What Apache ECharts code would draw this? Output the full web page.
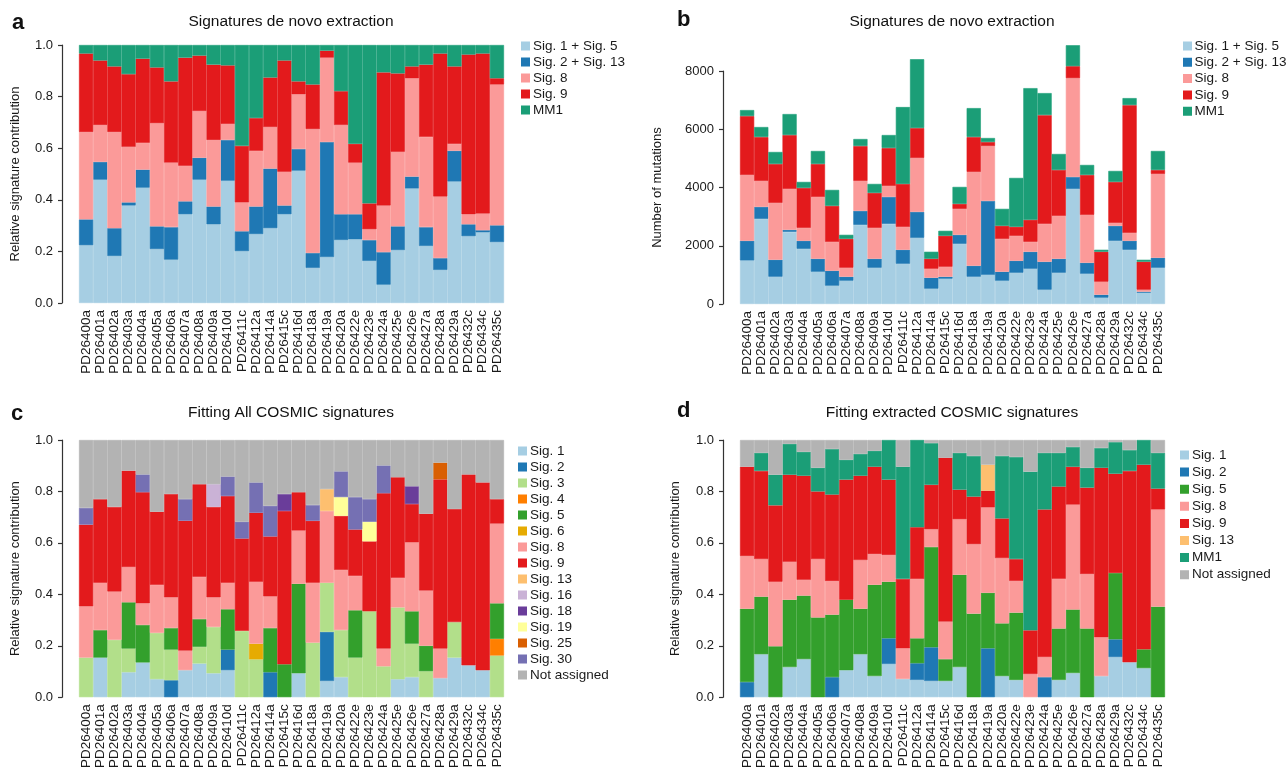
<!DOCTYPE html>
<html>
<head>
<meta charset="utf-8">
<script src="https://cdn.jsdelivr.net/npm/echarts@6/dist/echarts.min.js"></script>
<style>
html,body{margin:0;padding:0;background:#fff}
#main{width:1287px;height:771px}
</style>
</head>
<body>
<div id="main"></div>
<script>
var samples = ["PD26400a","PD26401a","PD26402a","PD26403a","PD26404a","PD26405a","PD26406a","PD26407a","PD26408a","PD26409a",
  "PD26410d","PD26411c","PD26412a","PD26414a","PD26415c","PD26416d","PD26418a","PD26419a","PD26420a","PD26422e",
  "PD26423e","PD26424a","PD26425e","PD26426e","PD26427a","PD26428a","PD26429a","PD26432c","PD26434c","PD26435c"];

// a: de novo, relative
var a_sig1_5  = [.224,.478,.182,.378,.447,.209,.168,.344,.478,.305,.474,.201,.267,.290,.344,.513,.136,.178,.244,.247,.163,.071,.205,.444,.221,.128,.471,.259,.274,.236];
var a_sig2_13 = [.100,.069,.108,.012,.070,.088,.126,.050,.085,.069,.158,.077,.107,.231,.034,.084,.058,.446,.100,.097,.081,.126,.092,.046,.073,.046,.119,.046,.008,.065];
var a_sig8    = [.339,.143,.373,.215,.104,.400,.250,.138,.181,.258,.062,.112,.216,.161,.131,.212,.480,.327,.346,.200,.042,.181,.289,.381,.350,.239,.027,.039,.065,.546];
var a_sig9    = [.304,.250,.254,.282,.326,.216,.315,.419,.215,.292,.227,.219,.127,.192,.431,.050,.173,.027,.131,.073,.100,.516,.304,.046,.280,.554,.300,.619,.620,.024];
var a_mm1     = [.033,.060,.083,.113,.053,.087,.141,.049,.041,.076,.079,.391,.283,.126,.060,.141,.153,.022,.179,.383,.614,.106,.110,.083,.076,.033,.083,.037,.033,.129];

// b: de novo, counts
var b_sig1_5  = [1497,2926,937,2480,1897,1109,629,800,2720,1246,2755,1383,2275,526,869,2069,937,1006,800,1074,1212,491,1074,3955,1040,217,2172,1863,389,1246];
var b_sig2_13 = [675,412,583,69,275,445,514,137,480,308,925,480,891,377,68,308,377,2537,309,412,583,961,480,411,377,103,514,309,34,343];
var b_sig8    = [2263,891,1955,1406,445,2126,994,309,1029,1063,378,789,1852,309,343,892,3224,1886,1131,857,342,1303,1475,3395,1646,446,103,274,68,2880];
var b_sig9    = [2023,1509,1337,1851,1372,1132,1235,994,1200,1201,1303,1474,1029,342,1063,171,1200,137,446,309,755,3737,1577,411,1372,1029,1406,4389,961,137];
var b_mm1     = [206,343,412,721,206,446,548,137,240,308,445,2641,2365,241,172,583,994,138,583,1680,4526,755,549,720,343,68,377,240,68,652];

// c: fitting all COSMIC signatures
var c_sig1  = [0,.154,0,.097,.135,.070,0,.105,.131,.093,.105,0,0,0,0,.093,0,.063,.078,0,0,0,.070,.078,0,.074,.154,.124,.105,0];
var c_sig2  = [0,0,0,0,0,0,.066,0,0,0,.080,0,0,.097,0,0,0,.191,0,0,0,0,0,0,0,0,0,0,0,0];
var c_sig3  = [.154,0,.223,.092,0,.180,.119,0,.065,.180,0,.258,.147,0,0,0,.212,.191,.183,.154,.334,.120,.279,.130,.101,0,.138,0,0,.162];
var c_sig4  = [0,0,0,0,0,0,0,0,0,0,0,0,0,0,0,0,0,0,0,0,0,0,0,0,0,0,0,0,0,.065];
var c_sig5  = [0,.107,0,.180,.146,0,.084,0,.108,0,.157,0,0,.172,.128,.348,0,0,0,.184,0,0,0,.126,.099,0,0,0,0,.138];
var c_sig6  = [0,0,0,0,0,0,0,0,0,0,0,0,.061,0,0,0,0,0,0,0,0,0,0,0,0,0,0,0,0,0];
var c_sig8  = [.199,.184,.188,.137,.084,.187,.119,.076,.164,.115,.103,0,.241,.123,0,.207,.233,.279,.234,.134,0,.069,.115,.268,.215,.115,0,0,0,.310];
var c_sig9  = [.318,.325,.329,.375,.432,.284,.402,.505,.360,.352,.337,.359,.268,.233,.596,.149,.241,0,.210,.180,.272,.604,.391,.149,.298,.658,.440,.742,.730,.095];
var c_sig13 = [0,0,0,0,0,0,0,0,0,0,0,0,0,0,0,0,0,.085,0,0,0,0,0,0,0,0,0,0,0,0];
var c_sig16 = [0,0,0,0,0,0,0,0,0,.088,0,0,0,0,0,0,0,0,0,0,0,0,0,0,0,0,0,0,0,0];
var c_sig18 = [0,0,0,0,0,0,0,0,0,0,0,0,0,0,.066,0,0,0,0,0,0,0,0,.069,0,0,0,0,0,0];
var c_sig19 = [0,0,0,0,0,0,0,0,0,0,0,0,0,0,0,0,0,0,.073,0,.076,0,0,0,0,0,0,0,0,0];
var c_sig25 = [0,0,0,0,0,0,0,0,0,0,0,0,0,0,0,0,0,0,0,0,0,0,0,0,0,.065,0,0,0,0];
var c_sig30 = [.065,0,0,0,.069,0,0,.084,0,0,.076,.065,.118,.119,0,0,.061,0,.100,.126,.088,.108,0,0,0,0,0,0,0,0];
var c_na    = [.264,.230,.260,.119,.134,.279,.210,.230,.172,.172,.142,.318,.165,.256,.210,.203,.253,.191,.122,.222,.230,.099,.145,.180,.287,.088,.268,.134,.165,.230];

// d: fitting extracted COSMIC signatures
var d_sig1  = [0,.167,0,.117,.148,0,0,.105,.167,.082,.129,.071,.067,.063,.063,.117,0,0,.082,.067,0,0,.067,.094,0,.082,.156,.136,.113,0];
var d_sig2  = [.059,0,0,0,0,0,.078,0,0,0,.100,0,.065,.131,0,0,0,.190,0,0,0,.078,0,0,0,0,.069,0,0,0];
var d_sig5  = [.285,.224,.198,.262,.247,.310,.243,.274,.177,.355,.220,0,.097,.390,.085,.359,.325,.216,.205,.262,0,0,.200,.247,.267,0,.258,0,.073,.352];
var d_sig8  = [.205,.146,.251,.147,.061,.227,.131,0,.189,.120,.104,.119,.231,.069,.146,.216,.270,.332,.254,.123,.090,.078,.193,.408,.212,.151,0,0,0,.378];
var d_sig9  = [.347,.343,.297,.339,.405,.263,.336,.467,.328,.339,.293,.270,.201,.173,.637,.115,.185,.065,.154,.085,.170,.574,.359,.147,.336,.659,.386,.744,.718,.081];
var d_sig13 = [0,0,0,0,0,0,0,0,0,0,0,0,0,0,0,0,0,.101,0,0,0,0,0,0,0,0,0,0,0,0];
var d_mm1   = [0,.070,.119,.120,.093,.092,.177,.077,.085,.062,.154,.436,.339,.162,0,.143,.158,0,.243,.397,.617,.220,.131,.077,.077,.077,.123,.081,.096,.139];
var d_na    = [.104,.050,.135,.015,.046,.108,.035,.077,.054,.042,0,.104,0,.012,.069,.050,.062,.096,.062,.066,.123,.050,.050,.027,.108,.031,.008,.039,0,.050];

var col = {
  s1:"#a6cee3", s2:"#1f78b4", s3:"#b2df8a", s4:"#ff7f00", s5:"#33a02c", s6:"#e6ab02",
  s8:"#fb9a99", s9:"#e31a1c", s13:"#fdbf6f", s16:"#cab2d6", s18:"#6a3d9a", s19:"#ffff99",
  s25:"#d95f02", s30:"#7570b3", mm1:"#1b9e77", na:"#b3b3b3"
};

var font = "'Liberation Sans', Arial, sans-serif";
var ink = "#1a1a1a";

function bar(name, data, color, idx, st) {
  return {
    name: name, type: "bar", stack: st,
    // empty cells are skipped so their border does not leave a hairline
    data: data.map(function (v) { return v === 0 ? "-" : v; }),
    xAxisIndex: idx, yAxisIndex: idx,
    barCategoryGap: "0%", barGap: "0%",
    // thin border in the same colour closes the hairline seams between bars
    itemStyle: { color: color, borderColor: color, borderWidth: 0.6 },
    emphasis: { disabled: true },
    silent: true
  };
}

function xcat(gi) {
  return {
    gridIndex: gi, type: "category", data: samples,
    axisLine: { show: false }, axisTick: { show: false },
    axisLabel: { rotate: 90, interval: 0, fontSize: 13.5, color: ink, fontFamily: font, margin: 7 }
  };
}

function yval(gi, max, interval, name, gap, fmt) {
  return {
    gridIndex: gi, type: "value", min: 0, max: max, interval: interval, offset: 17,
    axisLine: { show: true, lineStyle: { color: "#333", width: 1.2 } },
    axisTick: { show: true, length: 4, lineStyle: { color: "#333", width: 1.2 } },
    splitLine: { show: false },
    axisLabel: { formatter: fmt, fontSize: 13, color: ink, fontFamily: font, margin: 9 },
    name: name, nameLocation: "middle", nameGap: gap,
    nameTextStyle: { fontSize: 13, color: ink, fontFamily: font }
  };
}

function leg(names, left, top, gap, pad) {
  return {
    data: names, orient: "vertical", left: left, top: top, icon: "rect",
    itemWidth: 7, itemHeight: 7, itemGap: gap, padding: 0, selectedMode: false,
    textStyle: { fontSize: 13.5, lineHeight: 13, color: ink, fontFamily: font, padding: [0, 0, 0, pad] }
  };
}

function ttl(text, x, y, size, bold) {
  return {
    text: text, left: x, top: y, textAlign: bold ? "left" : "center", padding: 0,
    textStyle: { fontSize: size, fontWeight: bold ? "bold" : "normal", color: "#111", fontFamily: font }
  };
}

var fmt1 = function (v) { return v.toFixed(1); };
var fmtN = function (v) { return String(v); };

var series = [
  bar("Sig. 1 + Sig. 5", a_sig1_5, col.s1, 0, "a"),
  bar("Sig. 2 + Sig. 13", a_sig2_13, col.s2, 0, "a"),
  bar("Sig. 8", a_sig8, col.s8, 0, "a"),
  bar("Sig. 9", a_sig9, col.s9, 0, "a"),
  bar("MM1", a_mm1, col.mm1, 0, "a"),

  bar("Sig. 1 + Sig. 5", b_sig1_5, col.s1, 1, "b"),
  bar("Sig. 2 + Sig. 13", b_sig2_13, col.s2, 1, "b"),
  bar("Sig. 8", b_sig8, col.s8, 1, "b"),
  bar("Sig. 9", b_sig9, col.s9, 1, "b"),
  bar("MM1", b_mm1, col.mm1, 1, "b"),

  bar("Sig. 1", c_sig1, col.s1, 3, "c"),
  bar("Sig. 2", c_sig2, col.s2, 3, "c"),
  bar("Sig. 3", c_sig3, col.s3, 3, "c"),
  bar("Sig. 4", c_sig4, col.s4, 3, "c"),
  bar("Sig. 5", c_sig5, col.s5, 3, "c"),
  bar("Sig. 6", c_sig6, col.s6, 3, "c"),
  bar("Sig. 8", c_sig8, col.s8, 3, "c"),
  bar("Sig. 9", c_sig9, col.s9, 3, "c"),
  bar("Sig. 13", c_sig13, col.s13, 3, "c"),
  bar("Sig. 16", c_sig16, col.s16, 3, "c"),
  bar("Sig. 18", c_sig18, col.s18, 3, "c"),
  bar("Sig. 19", c_sig19, col.s19, 3, "c"),
  bar("Sig. 25", c_sig25, col.s25, 3, "c"),
  bar("Sig. 30", c_sig30, col.s30, 3, "c"),
  bar("Not assigned", c_na, col.na, 3, "c"),

  bar("Sig. 1", d_sig1, col.s1, 4, "d"),
  bar("Sig. 2", d_sig2, col.s2, 4, "d"),
  bar("Sig. 5", d_sig5, col.s5, 4, "d"),
  bar("Sig. 8", d_sig8, col.s8, 4, "d"),
  bar("Sig. 9", d_sig9, col.s9, 4, "d"),
  bar("Sig. 13", d_sig13, col.s13, 4, "d"),
  bar("MM1", d_mm1, col.mm1, 4, "d"),
  bar("Not assigned", d_na, col.na, 4, "d")
];

// panel b: bars use a hidden 0-8900 axis, the visible axis only spans 0-8000
var hiddenX = { gridIndex: 2, type: "category", data: samples, show: false };
var hiddenY = { gridIndex: 1, type: "value", min: 0, max: 8900, show: false, splitLine: { show: false } };

var option = {
  animation: false,
  backgroundColor: "#fff",
  title: [
    ttl("a", 12, 12, 22, true),
    ttl("Signatures de novo extraction", 291, 14, 15.5),
    ttl("b", 677, 9, 22, true),
    ttl("Signatures de novo extraction", 952, 14, 15.5),
    ttl("c", 11, 403, 22, true),
    ttl("Fitting All COSMIC signatures", 291, 405, 15.5),
    ttl("d", 677, 400, 22, true),
    ttl("Fitting extracted COSMIC signatures", 952, 405, 15.5)
  ],
  legend: [
    leg(["Sig. 1 + Sig. 5", "Sig. 2 + Sig. 13", "Sig. 8", "Sig. 9", "MM1"], 521, 39, 2, -1),
    leg(["Sig. 1 + Sig. 5", "Sig. 2 + Sig. 13", "Sig. 8", "Sig. 9", "MM1"], 1183, 39, 2.3, -1.5),
    leg(["Sig. 1", "Sig. 2", "Sig. 3", "Sig. 4", "Sig. 5", "Sig. 6", "Sig. 8", "Sig. 9", "Sig. 13",
         "Sig. 16", "Sig. 18", "Sig. 19", "Sig. 25", "Sig. 30", "Not assigned"], 518, 444, 2, -1),
    leg(["Sig. 1", "Sig. 2", "Sig. 5", "Sig. 8", "Sig. 9", "Sig. 13", "MM1", "Not assigned"], 1180, 448, 3.1, -1)
  ],
  grid: [
    { left: 79, top: 45, width: 425, height: 258 },
    { left: 740, top: 45, width: 425, height: 259 },
    { left: 740, top: 71, width: 425, height: 233 },
    { left: 79, top: 440, width: 425, height: 261 },
    { left: 740, top: 440, width: 425, height: 259 }
  ],
  xAxis: [xcat(0), xcat(1), hiddenX, xcat(3), xcat(4)],
  yAxis: [
    yval(0, 1, 0.2, "Relative signature contribution", 40, fmt1),
    hiddenY,
    yval(2, 8000, 2000, "Number of mutations", 59, fmtN),
    yval(3, 1, 0.2, "Relative signature contribution", 40, fmt1),
    yval(4, 1, 0.2, "Relative signature contribution", 41, fmt1)
  ],
  series: series
};

var chart = echarts.init(document.getElementById("main"), null, { renderer: "canvas" });
chart.setOption(option);
</script>
</body>
</html>
